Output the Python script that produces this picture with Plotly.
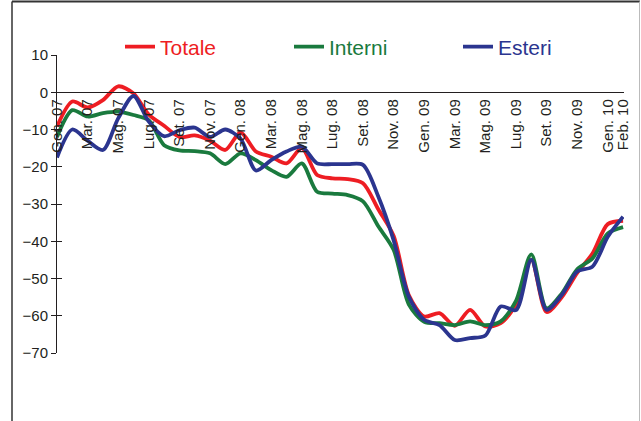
import plotly.graph_objects as go

months = ["Gen. 07", "Feb. 07", "Mar. 07", "Apr. 07", "Mag. 07", "Giu. 07", "Lug. 07", "Ago. 07",
          "Set. 07", "Ott. 07", "Nov. 07", "Dic. 07", "Gen. 08", "Feb. 08", "Mar. 08", "Apr. 08",
          "Mag. 08", "Giu. 08", "Lug. 08", "Ago. 08", "Set. 08", "Ott. 08", "Nov. 08", "Dic. 08",
          "Gen. 09", "Feb. 09", "Mar. 09", "Apr. 09", "Mag. 09", "Giu. 09", "Lug. 09", "Ago. 09",
          "Set. 09", "Ott. 09", "Nov. 09", "Dic. 09", "Gen. 10", "Feb. 10"]

totale = [-9.2, -2.5, -4.1, -2.1, 1.6, -0.3, -6.0, -9.0, -12.0, -11.6,
          -13.0, -15.5, -10.8, -15.9, -17.3, -19.1, -15.0, -22.2, -23.1, -23.3,
          -24.4, -31.4, -38.5, -54.5, -60.2, -59.3, -62.7, -58.4, -62.9, -62.0,
          -57.0, -45.0, -59.0, -55.0, -48.5, -43.3, -35.4, -34.5]

interni = [-12.0, -4.8, -6.5, -5.6, -5.2, -6.1, -7.5, -14.2, -15.6, -15.8,
           -16.4, -19.3, -16.4, -18.2, -20.9, -22.7, -19.1, -26.7, -27.2, -27.6,
           -29.3, -36.0, -42.3, -57.0, -61.6, -62.0, -62.5, -61.5, -62.5, -61.5,
           -56.0, -43.5, -58.0, -54.0, -47.5, -44.6, -37.9, -36.2]

esteri = [-17.5, -10.0, -13.0, -15.5, -7.0, -1.0, -7.9, -11.8, -10.2, -9.5,
          -12.0, -10.0, -12.5, -21.0, -18.2, -15.9, -14.6, -19.1, -19.3, -19.3,
          -19.5, -28.0, -39.7, -54.9, -61.1, -62.5, -66.5, -66.0, -65.3, -57.5,
          -58.5, -45.0, -58.4, -54.4, -48.1, -46.8, -38.8, -33.4]

tick_labels = ["Gen. 07", "Mar. 07", "Mag. 07", "Lug. 07", "Set. 07", "Nov. 07", "Gen. 08",
               "Mar. 08", "Mag. 08", "Lug. 08", "Set. 08", "Nov. 08", "Gen. 09", "Mar. 09",
               "Mag. 09", "Lug. 09", "Set. 09", "Nov. 09", "Gen. 10", "Feb. 10"]

series = [("Totale", totale, "#EE1D23"), ("Interni", interni, "#1A7A3E"), ("Esteri", esteri, "#2B358F")]

idx = list(range(len(months)))
tick_idx = [months.index(t) for t in tick_labels]

fig = go.Figure()
for name, vals, col in series:
    fig.add_trace(go.Scatter(
        x=idx, y=vals, mode="lines", line=dict(color=col, width=3.8, shape="spline", smoothing=0.8),
        name=f"<span style='color:{col}'>{name}</span>", text=months, hoverinfo="text+y"))

# invisible helper trace for second y axis (inside ticks)
fig.add_trace(go.Scatter(x=[0], y=[0], yaxis="y2", mode="markers", marker=dict(opacity=0),
                         showlegend=False, hoverinfo="skip"))

L, R, T, B = 57, 17, 55, 68
W, H = 641, 421
pw, ph = W - L - R, H - T - B
def px(x):
    return (x - L) / pw
def py(y):
    return (H - B - y) / ph

ink = "#231f20"
fig.update_layout(
    width=W, height=H,
    margin=dict(l=L, r=R, t=T, b=B, autoexpand=False),
    paper_bgcolor="white", plot_bgcolor="white",
    font=dict(family="Liberation Sans, Arial", size=15, color=ink),
    showlegend=True,
    legend=dict(orientation="h", xref="container", yref="container",
                x=120 / W, y=1 - 47 / H, xanchor="left", yanchor="middle",
                entrywidth=124, entrywidthmode="pixels", font=dict(size=21),
                bgcolor="rgba(0,0,0,0)", itemclick=False),
    xaxis=dict(range=[0, 37.06], tickvals=tick_idx, ticktext=tick_labels, tickangle=-90,
               ticks="", showline=True, linecolor=ink, linewidth=1, showgrid=False,
               zeroline=False, anchor="free", position=70 / 80,
               tickfont=dict(size=15, color=ink)),
    yaxis=dict(range=[-70, 10], dtick=10, ticks="outside", ticklen=5, tickcolor=ink,
               showline=True, linecolor=ink, linewidth=1, showgrid=False, zeroline=False,
               tickfont=dict(size=15, color=ink)),
    yaxis2=dict(range=[-70, 10], dtick=10, ticks="inside", ticklen=5, tickcolor=ink,
                overlaying="y", side="left", showticklabels=False, showline=False,
                showgrid=False, zeroline=False),
    shapes=[
        dict(type="line", xref="paper", yref="paper", x0=px(12), x1=px(640), y0=py(1.5), y1=py(1.5),
             line=dict(color="#333333", width=2)),
        dict(type="line", xref="paper", yref="paper", x0=px(12), x1=px(12), y0=py(1.5), y1=py(430),
             line=dict(color="#333333", width=1.5)),
        dict(type="line", xref="paper", yref="paper", x0=px(639.5), x1=px(639.5), y0=py(1.5), y1=py(430),
             line=dict(color="#bbbbbb", width=1)),
    ],
)

fig.write_html("out.html", config={"displayModeBar": False},
               post_script="document.body.style.margin='0';")
